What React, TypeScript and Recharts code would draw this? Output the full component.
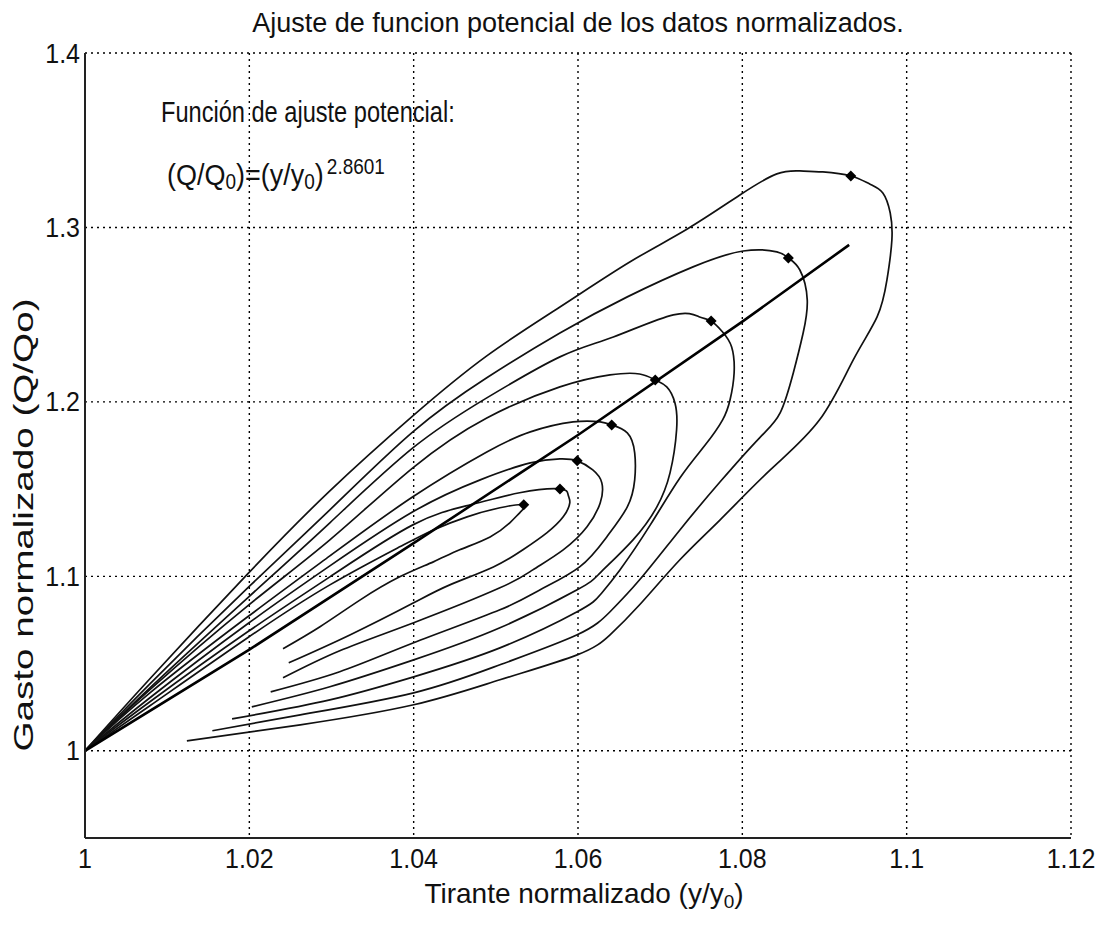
import { ComposedChart, Line, Scatter, XAxis, YAxis, CartesianGrid } from 'recharts';

const xTicks = [1, 1.02, 1.04, 1.06, 1.08, 1.1, 1.12];
const yTicks = [1, 1.1, 1.2, 1.3, 1.4];

// each loop: rising branch from (1,1), over the peak, back down along the lower branch
const loop1 = [
  { x: 1, y: 1 }, { x: 1.0079, y: 1.0413 }, { x: 1.0198, y: 1.1014 }, { x: 1.0298, y: 1.149 },
  { x: 1.0399, y: 1.192 }, { x: 1.0489, y: 1.2264 }, { x: 1.0578, y: 1.2544 }, { x: 1.0663, y: 1.2802 },
  { x: 1.0733, y: 1.2991 }, { x: 1.0797, y: 1.3186 }, { x: 1.0842, y: 1.3307 }, { x: 1.087, y: 1.3324 },
  { x: 1.0898, y: 1.3318 }, { x: 1.0932, y: 1.3295 }, { x: 1.0955, y: 1.3249 }, { x: 1.0971, y: 1.3198 },
  { x: 1.098, y: 1.3083 }, { x: 1.0982, y: 1.2928 }, { x: 1.0976, y: 1.2699 }, { x: 1.0964, y: 1.2487 },
  { x: 1.0935, y: 1.2241 }, { x: 1.0894, y: 1.1897 }, { x: 1.0834, y: 1.161 }, { x: 1.0773, y: 1.1324 },
  { x: 1.0724, y: 1.1095 }, { x: 1.0675, y: 1.0837 }, { x: 1.0639, y: 1.0665 }, { x: 1.0599, y: 1.055 },
  { x: 1.0505, y: 1.0407 }, { x: 1.04, y: 1.0264 }, { x: 1.0262, y: 1.0149 }, { x: 1.0124, y: 1.0057 },
];
const loop2 = [
  { x: 1, y: 1 }, { x: 1.0079, y: 1.0384 }, { x: 1.0198, y: 1.0934 }, { x: 1.0298, y: 1.1381 },
  { x: 1.0399, y: 1.1828 }, { x: 1.0489, y: 1.2138 }, { x: 1.0578, y: 1.2395 }, { x: 1.066, y: 1.2602 },
  { x: 1.074, y: 1.2774 }, { x: 1.0801, y: 1.2865 }, { x: 1.0842, y: 1.286 }, { x: 1.0856, y: 1.2825 },
  { x: 1.087, y: 1.2756 }, { x: 1.0879, y: 1.2585 }, { x: 1.0874, y: 1.2395 }, { x: 1.0862, y: 1.2166 },
  { x: 1.0846, y: 1.1937 }, { x: 1.0821, y: 1.1794 }, { x: 1.0773, y: 1.1542 }, { x: 1.0724, y: 1.1266 },
  { x: 1.0675, y: 1.098 }, { x: 1.0639, y: 1.0797 }, { x: 1.0599, y: 1.0665 }, { x: 1.0505, y: 1.0493 },
  { x: 1.04, y: 1.0332 }, { x: 1.0262, y: 1.0206 }, { x: 1.0155, y: 1.0115 },
];
const loop3 = [
  { x: 1, y: 1 }, { x: 1.0079, y: 1.0361 }, { x: 1.0198, y: 1.0877 }, { x: 1.0298, y: 1.1307 },
  { x: 1.0399, y: 1.1736 }, { x: 1.0489, y: 1.2023 }, { x: 1.0578, y: 1.2258 }, { x: 1.0643, y: 1.2372 },
  { x: 1.0716, y: 1.2499 }, { x: 1.0748, y: 1.2487 }, { x: 1.0762, y: 1.2464 }, { x: 1.0776, y: 1.2401 },
  { x: 1.0787, y: 1.2315 }, { x: 1.079, y: 1.2166 }, { x: 1.0785, y: 1.2011 }, { x: 1.0776, y: 1.1897 },
  { x: 1.0755, y: 1.1754 }, { x: 1.0724, y: 1.1564 }, { x: 1.0688, y: 1.1295 }, { x: 1.0651, y: 1.1037 },
  { x: 1.0627, y: 1.0894 }, { x: 1.0599, y: 1.0797 }, { x: 1.0505, y: 1.059 }, { x: 1.04, y: 1.0424 },
  { x: 1.0298, y: 1.0292 }, { x: 1.0179, y: 1.0183 },
];
const loop4 = [
  { x: 1, y: 1 }, { x: 1.0079, y: 1.035 }, { x: 1.0198, y: 1.0831 }, { x: 1.0298, y: 1.1209 },
  { x: 1.0399, y: 1.1622 }, { x: 1.0489, y: 1.1908 }, { x: 1.0578, y: 1.2086 }, { x: 1.0639, y: 1.2155 },
  { x: 1.0675, y: 1.216 }, { x: 1.0694, y: 1.2126 }, { x: 1.0708, y: 1.2086 }, { x: 1.0718, y: 1.1994 },
  { x: 1.072, y: 1.184 }, { x: 1.0712, y: 1.1593 }, { x: 1.0696, y: 1.1398 }, { x: 1.0667, y: 1.1209 },
  { x: 1.0627, y: 1.102 }, { x: 1.0599, y: 1.0923 }, { x: 1.0505, y: 1.0705 }, { x: 1.04, y: 1.0521 },
  { x: 1.0298, y: 1.0367 }, { x: 1.0203, y: 1.0252 },
];
const loop5 = [
  { x: 1, y: 1 }, { x: 1.0079, y: 1.0332 }, { x: 1.0198, y: 1.0768 }, { x: 1.0298, y: 1.1117 },
  { x: 1.0399, y: 1.1456 }, { x: 1.0489, y: 1.1713 }, { x: 1.0542, y: 1.1828 }, { x: 1.0594, y: 1.1885 },
  { x: 1.0627, y: 1.1885 }, { x: 1.0641, y: 1.1868 }, { x: 1.066, y: 1.1822 }, { x: 1.0669, y: 1.1708 },
  { x: 1.0669, y: 1.1553 }, { x: 1.066, y: 1.1398 }, { x: 1.0635, y: 1.1226 }, { x: 1.0602, y: 1.1054 },
  { x: 1.0554, y: 1.0923 }, { x: 1.0505, y: 1.0808 }, { x: 1.04, y: 1.0619 }, { x: 1.031, y: 1.0453 },
  { x: 1.0226, y: 1.0338 },
];
const loop6 = [
  { x: 1, y: 1 }, { x: 1.0079, y: 1.0304 }, { x: 1.0198, y: 1.0728 }, { x: 1.0298, y: 1.106 },
  { x: 1.0399, y: 1.137 }, { x: 1.0481, y: 1.1553 }, { x: 1.0542, y: 1.165 }, { x: 1.0578, y: 1.1673 },
  { x: 1.0599, y: 1.1662 }, { x: 1.0618, y: 1.161 }, { x: 1.0629, y: 1.1536 }, { x: 1.0627, y: 1.1421 },
  { x: 1.0611, y: 1.1284 }, { x: 1.0582, y: 1.1152 }, { x: 1.0545, y: 1.1037 }, { x: 1.0505, y: 1.0934 },
  { x: 1.04, y: 1.0734 }, { x: 1.031, y: 1.0573 }, { x: 1.0241, y: 1.0418 },
];
const loop7 = [
  { x: 1, y: 1 }, { x: 1.0079, y: 1.0281 }, { x: 1.0198, y: 1.0682 }, { x: 1.0298, y: 1.0997 },
  { x: 1.0399, y: 1.1295 }, { x: 1.0469, y: 1.141 }, { x: 1.0529, y: 1.1479 }, { x: 1.0578, y: 1.1501 },
  { x: 1.0588, y: 1.1467 }, { x: 1.059, y: 1.1421 }, { x: 1.0582, y: 1.1341 }, { x: 1.0562, y: 1.1249 },
  { x: 1.0533, y: 1.1152 }, { x: 1.0497, y: 1.1054 }, { x: 1.0444, y: 1.0951 }, { x: 1.04, y: 1.0848 },
  { x: 1.0323, y: 1.0665 }, { x: 1.0248, y: 1.0504 },
];
const loop8 = [
  { x: 1, y: 1 }, { x: 1.0079, y: 1.0258 }, { x: 1.0198, y: 1.0648 }, { x: 1.0298, y: 1.0951 },
  { x: 1.0383, y: 1.1169 }, { x: 1.0424, y: 1.1266 }, { x: 1.0465, y: 1.1341 }, { x: 1.0505, y: 1.1393 },
  { x: 1.0534, y: 1.141 }, { x: 1.0529, y: 1.1364 }, { x: 1.0517, y: 1.1307 }, { x: 1.0493, y: 1.1226 },
  { x: 1.0456, y: 1.1152 }, { x: 1.0424, y: 1.1083 }, { x: 1.0383, y: 1.0997 }, { x: 1.0335, y: 1.0865 },
  { x: 1.0286, y: 1.0711 }, { x: 1.0241, y: 1.0585 },
];
const loops = [loop1, loop2, loop3, loop4, loop5, loop6, loop7, loop8];

const peaks = [
  { x: 1.0932, y: 1.3295 }, { x: 1.0856, y: 1.2825 }, { x: 1.0762, y: 1.2464 }, { x: 1.0694, y: 1.2126 },
  { x: 1.0641, y: 1.1868 }, { x: 1.0599, y: 1.1662 }, { x: 1.0578, y: 1.1501 }, { x: 1.0534, y: 1.141 },
];

const fitLine = [
  { x: 1, y: 1 }, { x: 1.02, y: 1.058 }, { x: 1.04, y: 1.119 }, { x: 1.06, y: 1.181 },
  { x: 1.08, y: 1.246 }, { x: 1.093, y: 1.29 },
];

const FONT = '"Liberation Sans", Arial, Helvetica, sans-serif';
const fmt = (v: number) => String(Number(v.toFixed(2)));

function XTick({ x, y, payload }: any) {
  return (
    <g transform={`translate(${x},${y + 30}) scale(1,1.12)`}>
      <text x={0} y={0} textAnchor="middle" fontSize={25} fontFamily={FONT} fill="#111">
        {fmt(payload.value)}
      </text>
    </g>
  );
}

function YTick({ x, y, payload }: any) {
  return (
    <g transform={`translate(${x - 5},${y}) scale(1,1.12)`}>
      <text x={0} y={8.5} textAnchor="end" fontSize={25} fontFamily={FONT} fill="#111">
        {fmt(payload.value)}
      </text>
    </g>
  );
}

function Diamond({ cx, cy }: any) {
  const r = 5.5;
  return <path d={`M${cx},${cy - r}L${cx + r},${cy}L${cx},${cy + r}L${cx - r},${cy}Z`} fill="#000" />;
}

export default function App() {
  return (
    <div style={{ position: 'absolute', left: 0, top: 0, background: '#fff' }}>
      <ComposedChart width={1104} height={927} margin={{ top: 53, right: 33, bottom: 49, left: 25 }}>
        <CartesianGrid stroke="#000" strokeWidth={1.4} strokeDasharray="2 4" />
        <XAxis
          type="number"
          dataKey="x"
          domain={[1, 1.12]}
          ticks={xTicks}
          allowDataOverflow
          height={40}
          tickSize={0}
          tickMargin={0}
          tickLine={false}
          tick={<XTick />}
          axisLine={{ stroke: '#222', strokeWidth: 2 }}
        />
        <YAxis
          type="number"
          dataKey="y"
          domain={[0.95, 1.4]}
          ticks={yTicks}
          allowDataOverflow
          width={60}
          tickSize={0}
          tickMargin={0}
          tickLine={false}
          tick={<YTick />}
          axisLine={{ stroke: '#222', strokeWidth: 2 }}
        />
        {loops.map((d, i) => (
          <Line
            key={i}
            data={d}
            dataKey="y"
            type="natural"
            stroke="#111"
            strokeWidth={1.7}
            dot={false}
            activeDot={false}
            isAnimationActive={false}
          />
        ))}
        <Line
          data={fitLine}
          dataKey="y"
          type="linear"
          stroke="#000"
          strokeWidth={2.6}
          dot={false}
          activeDot={false}
          isAnimationActive={false}
        />
        <Scatter data={peaks} dataKey="y" shape={<Diamond />} isAnimationActive={false} />

        <g transform="translate(578,32)">
          <text x={0} y={0} textAnchor="middle" fontSize={27} fontFamily={FONT} fill="#111">
            Ajuste de funcion potencial de los datos normalizados.
          </text>
        </g>
        <g transform="translate(584,903)">
          <text x={0} y={0} textAnchor="middle" fontSize={28} fontFamily={FONT} fill="#111">
            Tirante normalizado (y/y<tspan fontSize={19} dy={5}>0</tspan>
            <tspan dy={-5}>)</tspan>
          </text>
        </g>
        <g transform="translate(33,525) scale(1,1.38) rotate(-90)">
          <text x={0} y={0} textAnchor="middle" fontSize={28} fontFamily={FONT} fill="#111">
            Gasto normalizado (Q/Qo)
          </text>
        </g>
        <g transform="translate(161,122) scale(1,1.28)">
          <text x={0} y={0} fontSize={23.6} fontFamily={FONT} fill="#111">
            Función de ajuste potencial:
          </text>
        </g>
        <g transform="translate(167,185) scale(1,1.12)">
          <text x={0} y={0} fontSize={27} fontFamily={FONT} fill="#111">
            (Q/Q<tspan fontSize={19} dy={4}>0</tspan>
            <tspan dy={-4}>)=(y/y</tspan>
            <tspan fontSize={19} dy={4}>0</tspan>
            <tspan dy={-4}>)</tspan>
            <tspan fontSize={19} dx={3} dy={-10}>2.8601</tspan>
          </text>
        </g>
      </ComposedChart>
    </div>
  );
}
